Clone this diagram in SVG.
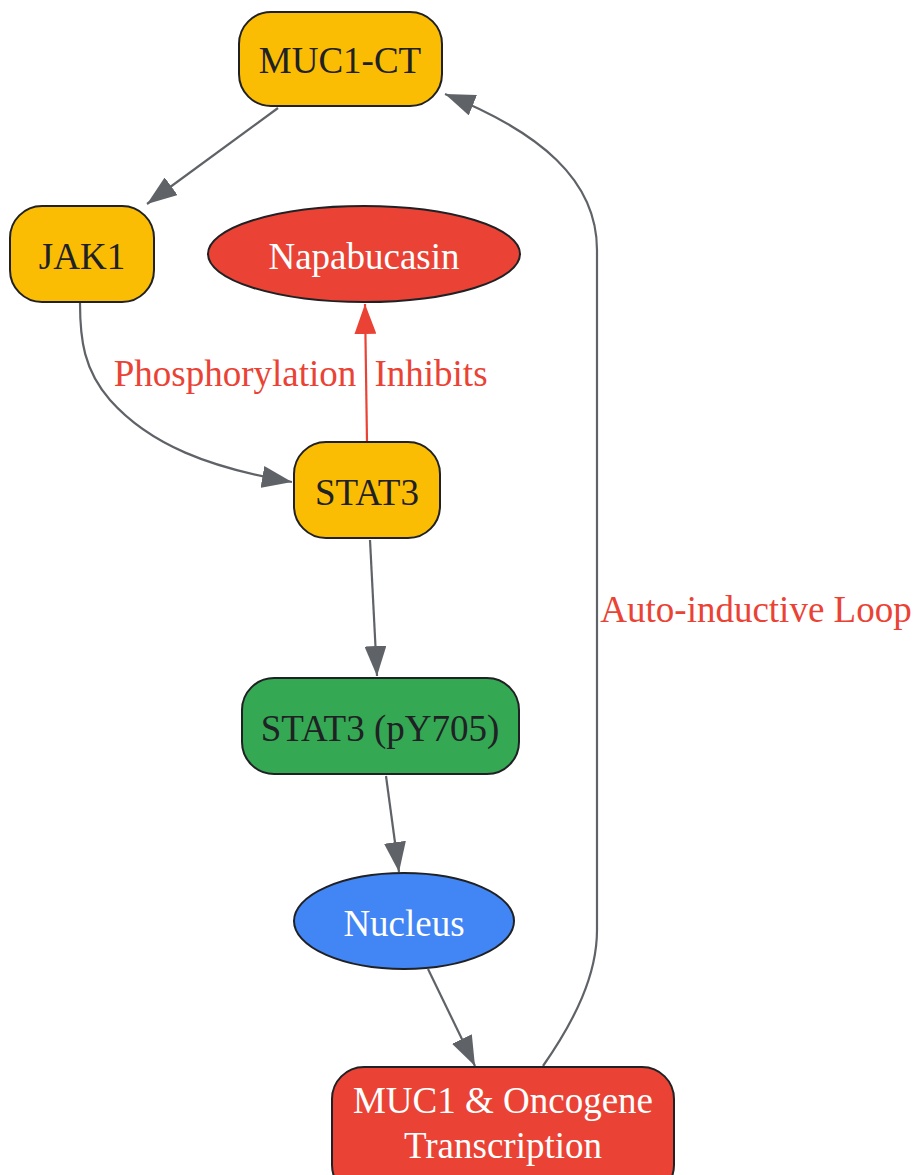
<svg xmlns="http://www.w3.org/2000/svg" width="916" height="1175" viewBox="0 0 916 1175">
<defs>
<marker id="ag" viewBox="0 0 30 22" refX="30" refY="11" markerWidth="30" markerHeight="22" markerUnits="userSpaceOnUse" orient="auto"><path d="M0,0 L30,11 L0,22 z" fill="#5f6368"/></marker>
<marker id="ar" viewBox="0 0 30 22" refX="30" refY="11" markerWidth="30" markerHeight="22" markerUnits="userSpaceOnUse" orient="auto"><path d="M0,0 L30,11 L0,22 z" fill="#ea4335"/></marker>
<style>
text{font-family:"Liberation Serif","Times New Roman",serif;font-size:37px;text-anchor:middle}
.n{stroke:#202124;stroke-width:2}
.y{fill:#fbbc04}.g{fill:#34a853}.b{fill:#4285f4}.r{fill:#ea4335}
.dk{fill:#202124}.wh{fill:#ffffff}
.e{fill:none;stroke:#5f6368;stroke-width:2.2}
.er{fill:none;stroke:#ea4335;stroke-width:2.2}
.lbl{fill:#ea4335}
</style>
</defs>
<g id="edges">
<path class="e" d="M278,108 L147,204" marker-end="url(#ag)"/>
<path class="e" d="M80,303 C80,340 84,370 110,400 C150,445 210,468 292,482" marker-end="url(#ag)"/>
<path class="er" d="M367,442 L365,304" marker-end="url(#ar)"/>
<path class="e" d="M370,540 L377,676" marker-end="url(#ag)"/>
<path class="e" d="M386,776 L399,872" marker-end="url(#ag)"/>
<path class="e" d="M428,969 L475,1066" marker-end="url(#ag)"/>
<path class="e" d="M543,1066 C575,1020 597,975 597,930 L597,250 C597,180 540,132 445,94" marker-end="url(#ag)"/>
<text class="lbl" x="235" y="386">Phosphorylation</text>
<text class="lbl" x="431" y="386">Inhibits</text>
<text class="lbl" x="756" y="622">Auto-inductive Loop</text>
</g>
<g id="muc1ct"><rect class="n y" x="239" y="12" width="203" height="94" rx="32"/><text class="dk" x="340" y="73">MUC1-CT</text></g>
<g id="jak1"><rect class="n y" x="10" y="206" width="144" height="96" rx="32"/><text class="dk" x="82" y="269">JAK1</text></g>
<g id="napabucasin"><ellipse class="n r" cx="364" cy="254" rx="156" ry="48"/><text class="wh" x="364" y="269">Napabucasin</text></g>
<g id="stat3"><rect class="n y" x="294" y="442" width="146" height="96" rx="32"/><text class="dk" x="367" y="505">STAT3</text></g>
<g id="stat3p"><rect class="n g" x="242" y="678" width="277" height="96" rx="32"/><text class="dk" x="380" y="741">STAT3 (pY705)</text></g>
<g id="nucleus"><ellipse class="n b" cx="404" cy="921" rx="110" ry="48"/><text class="wh" x="404" y="936">Nucleus</text></g>
<g id="transcription"><rect class="n r" x="332" y="1067" width="342" height="130" rx="32"/><text class="wh" x="503" y="1113">MUC1 &amp; Oncogene</text><text class="wh" x="503" y="1158">Transcription</text></g>
</svg>
